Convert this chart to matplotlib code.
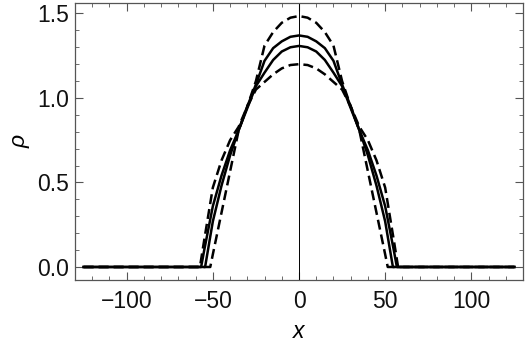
import matplotlib
matplotlib.use('Agg')
import matplotlib.pyplot as plt
from matplotlib.ticker import MultipleLocator, FormatStrFormatter

# density profiles rho(x)
x_dash_hi = [-125, -51.5, -50, -45, -40, -35, -30, -25, -20, -15, -10, -5, 0,
             5, 10, 15, 20, 25, 30, 35, 40, 45, 50, 51.5, 125]
rho_dash_hi = [0, 0, 0.075, 0.32, 0.565, 0.81, 0.95, 1.10, 1.31, 1.39, 1.445, 1.475, 1.485,
               1.475, 1.445, 1.39, 1.31, 1.10, 0.95, 0.81, 0.565, 0.32, 0.075, 0, 0]

x_solid_a = [-125, -54.5, -50, -45, -40, -35, -30, -25, -20, -15, -10, -5, 0,
             5, 10, 15, 20, 25, 30, 35, 40, 45, 50, 54.5, 125]
rho_solid_a = [0, 0, 0.27, 0.48, 0.66, 0.81, 0.95, 1.08, 1.22, 1.295, 1.335, 1.362, 1.37,
               1.362, 1.335, 1.295, 1.22, 1.08, 0.95, 0.81, 0.66, 0.48, 0.27, 0, 0]

x_solid_b = [-125, -56.8, -55, -50, -45, -40, -35, -30, -25, -20, -15, -10, -5, 0,
             5, 10, 15, 20, 25, 30, 35, 40, 45, 50, 55, 56.8, 125]
rho_solid_b = [0, 0, 0.10, 0.36, 0.54, 0.69, 0.81, 0.94, 1.07, 1.15, 1.225, 1.275, 1.30, 1.308,
               1.30, 1.275, 1.225, 1.15, 1.07, 0.94, 0.81, 0.69, 0.54, 0.36, 0.10, 0, 0]

x_dash_lo = [-125, -57.5, -55, -50, -45, -40, -35, -30, -25, -20, -15, -10, -5, 0,
             5, 10, 15, 20, 25, 30, 35, 40, 45, 50, 55, 57.5, 125]
rho_dash_lo = [0, 0, 0.16, 0.47, 0.63, 0.75, 0.83, 0.95, 1.05, 1.095, 1.14, 1.175, 1.195, 1.20,
               1.195, 1.175, 1.14, 1.095, 1.05, 0.95, 0.83, 0.75, 0.63, 0.47, 0.16, 0, 0]

plt.rcParams['font.family'] = ['Liberation Sans', 'DejaVu Sans']

fig = plt.figure(figsize=(5.25, 3.46), dpi=100)
ax = fig.add_axes([75 / 525, 66 / 346, 448 / 525, 277 / 346])

ax.axvline(0, color='black', lw=0.7)

dash = (4.0, 2.0)
lw = 1.8
ax.plot(x_dash_hi, rho_dash_hi, color='black', lw=lw, dashes=dash)
ax.plot(x_solid_a, rho_solid_a, color='black', lw=lw)
ax.plot(x_solid_b, rho_solid_b, color='black', lw=lw)
ax.plot(x_dash_lo, rho_dash_lo, color='black', lw=lw, dashes=dash)

ax.set_xlim(-130, 130)
ax.set_ylim(-0.077, 1.562)

ax.xaxis.set_major_locator(MultipleLocator(50))
ax.xaxis.set_minor_locator(MultipleLocator(10))
ax.yaxis.set_major_locator(MultipleLocator(0.5))
ax.yaxis.set_minor_locator(MultipleLocator(0.1))
ax.yaxis.set_major_formatter(FormatStrFormatter('%.1f'))

frame_col = '#555555'
for s in ax.spines.values():
    s.set_color(frame_col)
    s.set_linewidth(0.9)
ax.tick_params(which='both', direction='in', top=True, right=True,
               color=frame_col, labelsize=16.5, labelcolor='#111111')
ax.tick_params(axis='x', pad=7)
ax.tick_params(axis='y', pad=4)
ax.tick_params(which='major', length=6, width=0.8)
ax.tick_params(which='minor', length=3, width=0.6)

ax.set_xlabel('x', fontsize=16.5, style='italic', labelpad=5)
ax.set_ylabel('ρ', fontsize=16.5, style='italic', labelpad=5)

fig.savefig('out.png', dpi=100)
